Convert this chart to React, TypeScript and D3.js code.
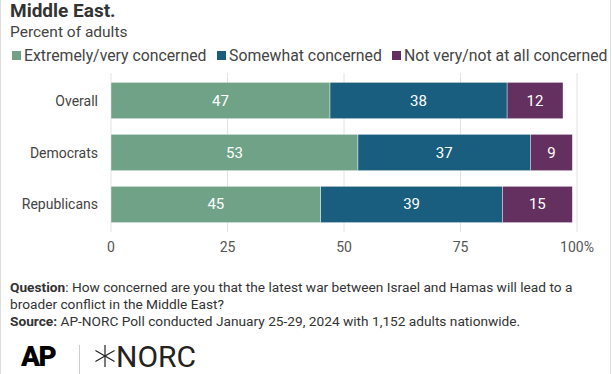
import React, { useEffect, useRef } from 'react';
import * as d3 from 'd3';

const groups = ['Overall', 'Democrats', 'Republicans'];
const seriesNames = ['Extremely/very concerned', 'Somewhat concerned', 'Not very/not at all concerned'];
const extremely = [47, 53, 45];
const somewhat = [38, 37, 39];
const notVery = [12, 9, 15];
const ticks = [0, 25, 50, 75, 100];
const colors = ['#70a288', '#195e7e', '#643060'];

const W = 612;
const H = 374;
const FONT = 'Roboto, "Noto Sans", sans-serif';

const drawChart = (element: HTMLDivElement) => {
	d3.select(element).select('svg').remove();
	const svg = d3
		.select(element)
		.append('svg')
		.attr('width', W)
		.attr('height', H)
		.style('display', 'block')
		.style('font-family', FONT);

	svg.append('rect').attr('width', W).attr('height', H).attr('fill', '#fff');
	// frame edges
	svg.append('line').attr('x1', 0.5).attr('x2', 0.5).attr('y1', 0).attr('y2', H).attr('stroke', '#ddd');
	svg.append('line').attr('x1', 610.5).attr('x2', 610.5).attr('y1', 0).attr('y2', H).attr('stroke', '#ddd');

	// header
	svg.append('text').attr('x', 10).attr('y', 17).text('Middle East.')
		.style('font-size', '19px').style('font-weight', 700).attr('fill', '#333');
	svg.append('text').attr('x', 10).attr('y', 37).text('Percent of adults')
		.style('font-size', '15.5px').attr('fill', '#444');

	// legend
	const legendX = [12, 217, 392];
	seriesNames.forEach((name, i) => {
		const g = svg.append('g').attr('transform', `translate(${legendX[i]}, 61)`);
		g.append('rect').attr('x', 0).attr('y', -10).attr('width', 9).attr('height', 9).attr('fill', colors[i]);
		g.append('text').attr('x', 12).attr('y', 0).text(name).style('font-size', '15.8px').attr('fill', '#444');
	});

	const x = d3.scaleLinear().domain([0, 100]).range([111, 577]);
	const y = d3.scaleBand().domain(groups).range([73, 232]).paddingInner(0.3).paddingOuter(0.18);

	// gridlines + ticks
	ticks.forEach((t) => {
		svg.append('line').attr('x1', x(t)).attr('x2', x(t)).attr('y1', 73).attr('y2', 232)
			.attr('stroke', '#e2e2e2').attr('stroke-width', 1);
		svg.append('text').attr('x', x(t)).attr('y', 252).attr('text-anchor', 'middle')
			.text(t === 100 ? '100%' : String(t)).style('font-size', '14px').attr('fill', '#555');
	});

	const rows = groups.map((g, i) => ({ group: g, values: [extremely[i], somewhat[i], notVery[i]] }));
	const stack = d3.stack<any>().keys(['0', '1', '2']).value((d, k) => d.values[+k]);
	const layers = stack(rows);

	layers.forEach((layer, li) => {
		layer.forEach((seg, ri) => {
			const g = rows[ri].group;
			svg.append('rect')
				.attr('x', x(seg[0]))
				.attr('y', y(g)!)
				.attr('width', x(seg[1]) - x(seg[0]))
				.attr('height', y.bandwidth())
				.attr('fill', colors[li])
				.attr('stroke', '#fff')
				.attr('stroke-width', 0.4);
			svg.append('text')
				.attr('x', (x(seg[0]) + x(seg[1])) / 2)
				.attr('y', y(g)! + y.bandwidth() / 2 + 5)
				.attr('text-anchor', 'middle')
				.text(String(seg[1] - seg[0]))
				.style('font-size', '15px')
				.attr('fill', '#fff');
		});
	});

	// category labels
	groups.forEach((g) => {
		svg.append('text').attr('x', 98).attr('y', y(g)! + y.bandwidth() / 2 + 5)
			.attr('text-anchor', 'end').text(g).style('font-size', '14px').attr('fill', '#444');
	});

	// notes
	const q = svg.append('text').attr('x', 10).attr('y', 292).style('font-size', '13.7px').attr('fill', '#333');
	q.append('tspan').style('font-weight', 700).text('Question');
	q.append('tspan').text(': How concerned are you that the latest war between Israel and Hamas will lead to a');
	svg.append('text').attr('x', 10).attr('y', 309).style('font-size', '13.7px').attr('fill', '#333')
		.text('broader conflict in the Middle East?');
	const s = svg.append('text').attr('x', 10).attr('y', 326).style('font-size', '13.7px').attr('fill', '#333');
	s.append('tspan').style('font-weight', 700).text('Source: ');
	s.append('tspan').text('AP-NORC Poll conducted January 25-29, 2024 with 1,152 adults nationwide.');

	// logos
	svg.append('text').attr('x', 21).attr('y', 366).text('AP')
		.style('font-size', '28px').style('font-weight', 900).style('letter-spacing', '-1.5px').attr('fill', '#000');
	svg.append('line').attr('x1', 79.5).attr('x2', 79.5).attr('y1', 345).attr('y2', H).attr('stroke', '#ccc');
	const star = svg.append('g').attr('transform', 'translate(105, 356)');
	[90, 30, 150].forEach((a) => {
		const r = (a * Math.PI) / 180;
		star.append('line')
			.attr('x1', -11 * Math.cos(r)).attr('y1', -11 * Math.sin(r))
			.attr('x2', 11 * Math.cos(r)).attr('y2', 11 * Math.sin(r))
			.attr('stroke', '#222').attr('stroke-width', 1.2);
	});
	svg.append('text').attr('x', 116).attr('y', 367).text('NORC')
		.style('font-size', '30px').style('font-weight', 400).attr('fill', '#222');
};

export default function App() {
	const chartRef = useRef<HTMLDivElement>(null);

	useEffect(() => {
		if (chartRef.current) {
			drawChart(chartRef.current);
		}
	}, [chartRef]);

	return <div ref={chartRef} style={{ position: 'absolute', left: 0, top: 0 }} />;
}
